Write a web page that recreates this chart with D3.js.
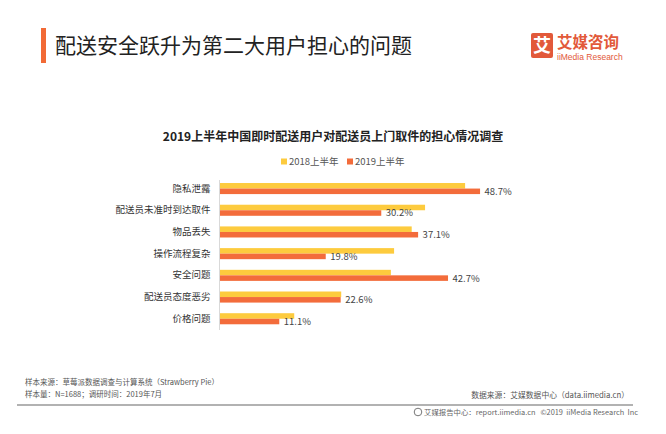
<!DOCTYPE html>
<html><head><meta charset="utf-8">
<script src="https://cdn.jsdelivr.net/npm/d3@7"></script>
<style>
html,body{margin:0;padding:0;background:#fff;}
svg{display:block;font-family:"Noto Sans CJK SC","Noto Sans",sans-serif;}
</style></head>
<body>
<svg id="c" width="666" height="434"></svg>
<script>
const categories = ["隐私泄露","配送员未准时到达取件","物品丢失","操作流程复杂","安全问题","配送员态度恶劣","价格问题"];
const series2018 = [45.9, 38.4, 35.9, 32.6, 32.0, 22.7, 13.9];
const series2019 = [48.7, 30.2, 37.1, 19.8, 42.7, 22.6, 11.1];
const seriesNames = ["2018上半年","2019上半年"];
const seriesColors = ["#FDCB3E","#F36C3B"];

const svg = d3.select("#c");

// header
svg.append("rect").attr("x",41).attr("y",28).attr("width",5).attr("height",35).attr("fill","#F26A36");
svg.append("text").attr("x",55).attr("y",45).attr("dy","0.36em")
  .attr("font-size",21).attr("fill","#222").text("配送安全跃升为第二大用户担心的问题");

// logo
svg.append("rect").attr("x",531).attr("y",33).attr("width",22).attr("height",25).attr("rx",2).attr("fill","#E2593A");
svg.append("text").attr("x",542).attr("y",45.5).attr("dy","0.36em").attr("text-anchor","middle")
  .attr("font-size",18).attr("font-weight","bold").attr("fill","#fff").text("艾");
svg.append("text").attr("x",557).attr("y",47.5)
  .attr("font-size",15.5).attr("font-weight","bold").attr("fill","#E2593A").text("艾媒咨询");
svg.append("text").attr("x",557).attr("y",60)
  .attr("font-family","'Liberation Sans',sans-serif")
  .attr("font-size",8.5).attr("fill","#E2593A").text("iiMedia Research");

// chart title
svg.append("text").attr("x",333).attr("y",137).attr("dy","0.36em").attr("text-anchor","middle")
  .attr("font-size",12).attr("font-weight","bold").attr("fill","#222")
  .text("2019上半年中国即时配送用户对配送员上门取件的担心情况调查");

// legend
const legendX = [281, 347];
seriesNames.forEach((n,i)=>{
  svg.append("rect").attr("x",legendX[i]).attr("y",158.5).attr("width",6).attr("height",6).attr("fill",seriesColors[i]);
  svg.append("text").attr("x",legendX[i]+8).attr("y",162).attr("dy","0.36em")
    .attr("font-size",9.5).attr("fill","#555").text(n);
});

// scales
const x = d3.scaleLinear().domain([0,60]).range([219.5, 219.5+5.34*60]);
const y = d3.scaleBand().domain(categories).range([177.6, 329.7]).paddingInner(0.49).paddingOuter(0.25);
const yi = d3.scaleBand().domain([0,1]).range([0, y.bandwidth()]);

// axis
const yAxis = d3.axisLeft(y).tickSize(0).tickPadding(9);
const gA = svg.append("g").attr("transform",`translate(${x(0)},0)`).call(yAxis);
gA.select(".domain").attr("stroke","#d9d9d9").attr("d","M0,180V330");
gA.selectAll("text").attr("font-size",9.5).attr("fill","#333").attr("font-family","'Noto Sans CJK SC',sans-serif");

// bars
const data = [series2018, series2019];
data.forEach((vals,si)=>{
  svg.append("g").selectAll("rect").data(categories).join("rect")
    .attr("x",x(0)+0.5)
    .attr("y",d=>y(d)+yi(si))
    .attr("width",(d,i)=>x(vals[i])-x(0))
    .attr("height",yi.bandwidth())
    .attr("fill",seriesColors[si]);
});
// labels for 2019
svg.append("g").selectAll("text").data(categories).join("text")
  .attr("x",(d,i)=>x(series2019[i])+5)
  .attr("y",d=>y(d)+yi(1)+yi.bandwidth()/2)
  .attr("dy","0.36em")
  .attr("font-size",9.5).attr("fill","#444")
  .text((d,i)=>series2019[i].toFixed(1)+"%");

// footer
svg.append("text").attr("x",25).attr("y",382).attr("dy","0.36em").attr("font-size",7.5).attr("fill","#555")
  .text("样本来源：草莓派数据调查与计算系统（Strawberry Pie）");
svg.append("text").attr("x",25).attr("y",394.5).attr("dy","0.36em").attr("font-size",7.5).attr("fill","#555")
  .text("样本量：N=1688；调研时间：2019年7月");
svg.append("text").attr("x",629).attr("y",395).attr("dy","0.36em").attr("text-anchor","end").attr("font-size",7.8).attr("fill","#555")
  .text("数据来源：艾媒数据中心（data.iimedia.cn）");
svg.append("line").attr("x1",17).attr("x2",633).attr("y1",405).attr("y2",405).attr("stroke","#999").attr("stroke-width",1.5);
svg.append("circle").attr("cx",418).attr("cy",412).attr("r",3.8).attr("fill","none").attr("stroke","#777").attr("stroke-width",1);
svg.append("text").attr("x",424).attr("y",412).attr("dy","0.36em").attr("font-size",7.4).attr("fill","#666")
  .attr("xml:space","preserve")
  .text("艾媒报告中心：report.iimedia.cn   ©2019  iiMedia Research  Inc");
</script>
</body></html>
